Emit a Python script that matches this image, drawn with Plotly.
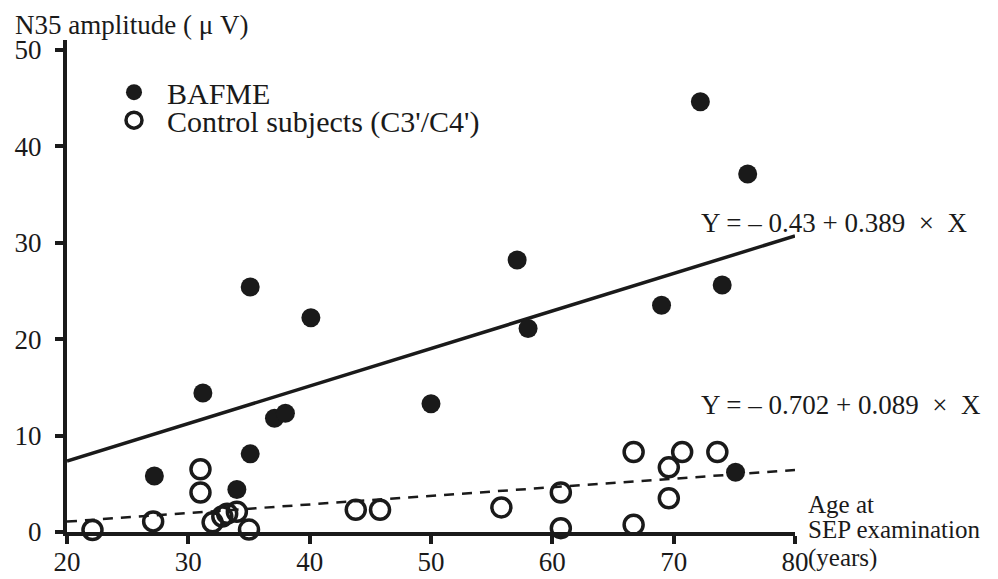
import plotly.graph_objects as go
import numpy as np

# BAFME patients (filled circles)
bafme_age = [72.2, 76.1, 35.1, 57.1, 74.0, 69.0, 40.1, 58.0, 31.2, 37.1, 38.0, 35.1, 27.2, 34.0, 50.0, 75.1]
bafme_amp = [44.6, 37.1, 25.4, 28.2, 25.6, 23.5, 22.2, 21.1, 14.4, 11.8, 12.3, 8.1, 5.8, 4.4, 13.3, 6.2]

# Control subjects (open circles)
ctrl_age = [22.1, 27.1, 31.0, 31.0, 32.0, 32.8, 33.2, 34.0, 35.0, 43.8, 45.8, 55.8,
            60.7, 60.7, 66.7, 66.7, 69.6, 69.6, 70.7, 73.6]
ctrl_amp = [0.2, 1.1, 6.5, 4.1, 1.0, 1.6, 1.9, 2.1, 0.25, 2.3, 2.3, 2.55,
            4.1, 0.4, 8.3, 0.75, 6.7, 3.5, 8.3, 8.3]

# Regression coefficients (intercept, slope)
bafme_fit = [-0.43, 0.389]
ctrl_fit = [-0.702, 0.089]
fit_x = [20, 80]

x_ticks = [20, 30, 40, 50, 60, 70, 80]
y_ticks = [0, 10, 20, 30, 40, 50]

FONT = "Liberation Serif, Times New Roman, serif"
INK = "#1a1a1a"

fig = go.Figure()

fx = np.array(fit_x, dtype=float)
fig.add_trace(go.Scatter(x=fx, y=bafme_fit[0] + bafme_fit[1] * fx, mode="lines",
                         line=dict(color=INK, width=3.5), showlegend=False, hoverinfo="skip"))
fig.add_trace(go.Scatter(x=fx, y=ctrl_fit[0] + ctrl_fit[1] * fx, mode="lines",
                         line=dict(color=INK, width=2.5, dash="10px,8px"), showlegend=False, hoverinfo="skip"))

fig.add_trace(go.Scatter(x=bafme_age, y=bafme_amp, mode="markers", name="BAFME",
                         marker=dict(symbol="circle", size=19, color=INK),
                         cliponaxis=False, legend="legend"))
fig.add_trace(go.Scatter(x=ctrl_age, y=ctrl_amp, mode="markers", name="Control subjects (C3'/C4')",
                         marker=dict(symbol="circle-open", size=19, color=INK, line=dict(width=3.5, color=INK)),
                         cliponaxis=False, legend="legend2"))

leg_common = dict(xanchor="left", yanchor="middle", bgcolor="rgba(0,0,0,0)",
                  font=dict(family=FONT, size=30, color=INK), itemwidth=56)

fig.update_layout(
    width=990, height=571,
    margin=dict(l=59, r=203, t=32, b=47, autoexpand=False),
    paper_bgcolor="white", plot_bgcolor="white",
    font=dict(family=FONT, color=INK, size=24),
    showlegend=True,
    legend=dict(x=0.0467, y=0.894, **leg_common),
    legend2=dict(x=0.0467, y=0.837, **leg_common),
    xaxis=dict(range=[20, 80], tickvals=x_ticks, ticktext=[str(v) for v in x_ticks],
               showline=True, linewidth=4, linecolor=INK, ticks="outside", ticklen=8, tickwidth=4,
               tickcolor=INK, showgrid=False, zeroline=False, automargin=False, ticklabelstandoff=-5,
               tickfont=dict(family=FONT, size=27, color=INK)),
    yaxis=dict(range=[0, 51], tickvals=y_ticks, ticktext=[str(v) for v in y_ticks],
               showline=True, linewidth=4, linecolor=INK, ticks="outside", ticklen=8, tickwidth=4,
               tickcolor=INK, showgrid=False, zeroline=False, automargin=False, ticklabelstandoff=8,
               tickfont=dict(family=FONT, size=27, color=INK)),
    annotations=[
        dict(text="N35 amplitude ( μ V)", xref="paper", yref="paper", x=-0.074, y=1.0305,
             xanchor="left", yanchor="middle", showarrow=False, font=dict(family=FONT, size=27, color=INK)),
        dict(text="Y = – 0.43 + 0.389  ×  X", xref="paper", yref="y", x=0.8675, y=32.0,
             xanchor="left", yanchor="middle", showarrow=False, font=dict(family=FONT, size=27, color=INK)),
        dict(text="Y = – 0.702 + 0.089  ×  X", xref="paper", yref="y", x=0.8675, y=13.2,
             xanchor="left", yanchor="middle", showarrow=False, font=dict(family=FONT, size=27, color=INK)),
        dict(text="Age at", xref="paper", yref="paper", x=1.015, y=0.0549,
             xanchor="left", yanchor="middle", showarrow=False, font=dict(family=FONT, size=25, color=INK)),
        dict(text="SEP examination", xref="paper", yref="paper", x=1.015, y=0.0041,
             xanchor="left", yanchor="middle", showarrow=False, font=dict(family=FONT, size=25, color=INK)),
        dict(text="(years)", xref="paper", yref="paper", x=1.015, y=-0.0528,
             xanchor="left", yanchor="middle", showarrow=False, font=dict(family=FONT, size=25, color=INK)),
    ],
)

fig.write_html("out.html")
